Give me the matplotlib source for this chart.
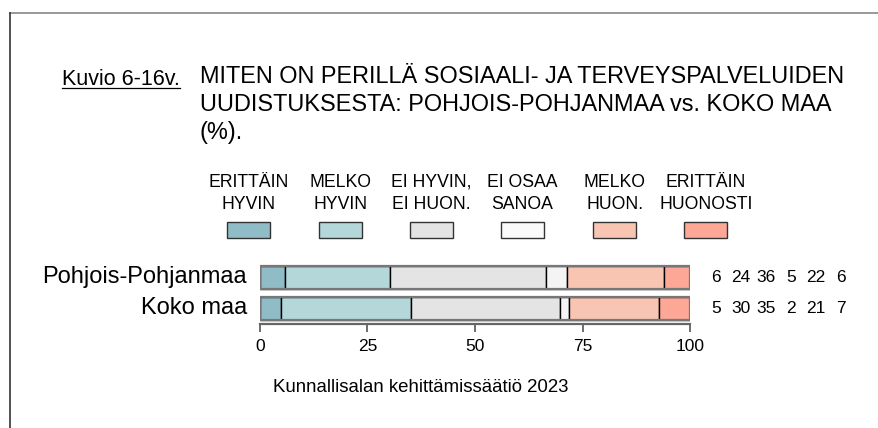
import numpy as np
import matplotlib
matplotlib.use('Agg')
import matplotlib.pyplot as plt
from matplotlib.patches import Rectangle
from matplotlib.lines import Line2D

plt.rcParams['font.family'] = ['Liberation Sans', 'DejaVu Sans']

W, H = 879, 428

def fx(px):
    return px / W

def fy(py):
    return 1 - py / H

# data
categories = ['Pohjois-Pohjanmaa', 'Koko maa']
legend_labels = ['ERITTÄIN\nHYVIN', 'MELKO\nHYVIN', 'EI HYVIN,\nEI HUON.',
                 'EI OSAA\nSANOA', 'MELKO\nHUON.', 'ERITTÄIN\nHUONOSTI']
pohjois = [5.8, 24.5, 36.3, 4.9, 22.4, 6.1]
koko_maa = [4.8, 30.4, 34.6, 2.1, 20.9, 7.2]
pohjois_labels = ['6', '24', '36', '5', '22', '6']
koko_labels = ['5', '30', '35', '2', '21', '7']
xticks = [0, 25, 50, 75, 100]

colors = ['#8fbcc6', '#b4d7da', '#e4e4e4', '#f4f4f4', '#f8c5b3', '#fda797']
legend_colors = ['#8fbcc6', '#b4d7da', '#e4e4e4', '#fafafa', '#f8c5b3', '#fda797']

values = np.array([pohjois, koko_maa])
shown = [pohjois_labels, koko_labels]

fig = plt.figure(figsize=(W / 100, H / 100), dpi=100)

# frame lines
fig.add_artist(Line2D([fx(10), 1], [fy(13), fy(13)], color='#888888', lw=1.2))
fig.add_artist(Line2D([fx(10), fx(10)], [fy(13), 0], color='#333333', lw=1.2))

# title
kuvio = fig.text(fx(180), fy(85), 'Kuvio 6-16v.', ha='right', va='baseline', fontsize=15.5)
fig.canvas.draw()
bb = kuvio.get_window_extent()
fig.add_artist(Line2D([bb.x0 / W, bb.x1 / W], [fy(88), fy(88)], color='black', lw=0.9))
fig.text(fx(200), fy(65), 'MITEN ON PERILLÄ SOSIAALI- JA TERVEYSPALVELUIDEN\n'
         'UUDISTUKSESTA: POHJOIS-POHJANMAA vs. KOKO MAA\n(%).',
         ha='left', va='top', fontsize=16.9, linespacing=1.27)

# legend
leg_x = [248.5, 340.5, 431.5, 522.5, 615, 706]
for i, lab in enumerate(legend_labels):
    fig.text(fx(leg_x[i]), fy(193.5), lab, ha='center', va='center',
             fontsize=12.7, linespacing=1.4)
    fig.add_artist(Rectangle((fx(leg_x[i] - 21.5), fy(238)), 43 / W, 16 / H,
                             facecolor=legend_colors[i], edgecolor='#333333', lw=1))

# bars
ax = fig.add_axes([fx(260), fy(324), 430 / W, 62 / H])
ypos = np.arange(len(categories))
left = np.zeros(len(categories))
for j in range(values.shape[1]):
    ax.barh(ypos, values[:, j], left=left, height=0.74, color=colors[j],
            edgecolor='black', lw=1)
    left += values[:, j]
ax.barh(ypos, values.sum(axis=1), height=0.74, facecolor='none',
        edgecolor='#777777', lw=1.6)

ax.set_xlim(0, 100)
ax.set_ylim(1.5, -0.5)
ax.set_yticks([])
ax.set_xticks(xticks)
ax.set_xticklabels([str(t) for t in xticks], fontsize=12.5)
ax.tick_params(axis='x', direction='out', length=6, width=1.2, color='#555555', pad=5)
for s in ['top', 'left', 'right']:
    ax.spines[s].set_visible(False)
ax.spines['bottom'].set_color('#666666')
ax.spines['bottom'].set_linewidth(1.6)
ax.spines['bottom'].set_bounds(0, 100)
ax.patch.set_alpha(0)

for i, cat in enumerate(categories):
    ax.text(-3, ypos[i], cat, ha='right', va='center', fontsize=17, clip_on=False)
    for j, s in enumerate(shown[i]):
        ax.text(106 + j * 25 * 100 / 430, ypos[i], s, ha='center', va='center',
                fontsize=12.5, clip_on=False)

fig.text(fx(273), fy(388), 'Kunnallisalan kehittämissäätiö 2023', ha='left',
         va='center', fontsize=13.4)

fig.savefig('out.png', dpi=100)
